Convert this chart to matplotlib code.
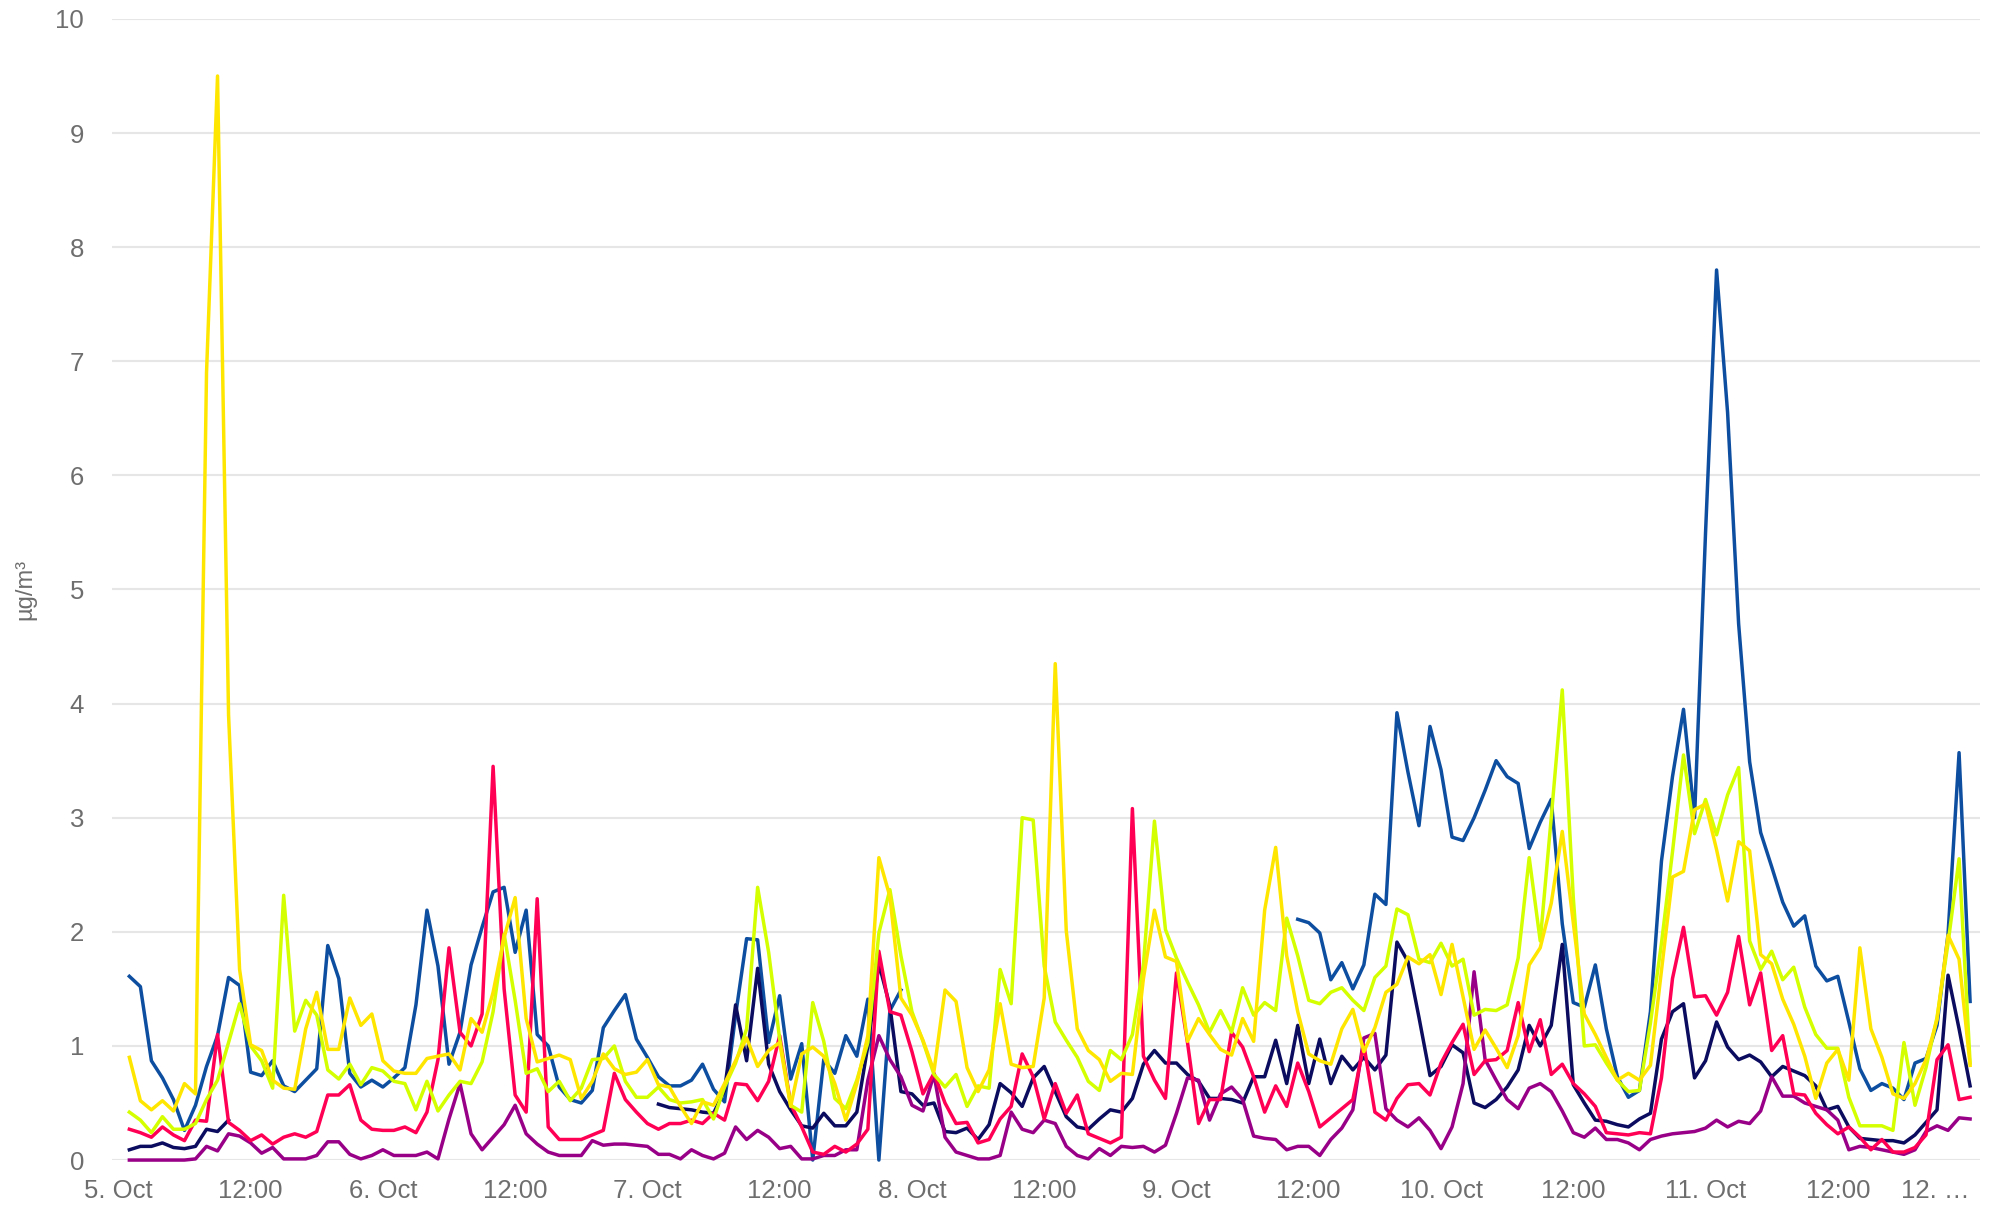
import numpy as np
import matplotlib
matplotlib.use("Agg")
import matplotlib.pyplot as plt

# hourly values, 5 Oct 01:00 .. 12 Oct 00:00, one row per day (None = no data)
blue = ([1.61, 1.52, 0.87, 0.72, 0.53, 0.26, 0.48, 0.82, 1.09, 1.60, 1.53, 0.77, 0.74, 0.87, 0.65, 0.60, 0.70, 0.80, 1.88, 1.59, 0.76, 0.64, 0.70, 0.64]
        + [0.72, 0.81, 1.36, 2.19, 1.70, 0.84, 1.12, 1.71, 2.04, 2.35, 2.39, 1.82, 2.19, 1.10, 1.00, 0.64, 0.53, 0.50, 0.61, 1.16, 1.31, 1.45, 1.06, 0.90]
        + [0.73, 0.65, 0.65, 0.70, 0.84, 0.62, 0.51, 1.27, 1.94, 1.93, 1.03, 1.44, 0.71, 1.02, 0.00, 0.88, 0.76, 1.09, 0.91, 1.41, 0.00, 1.31, 1.49, None]
        + [None] * 24
        + [None] * 10 + [2.11, 2.08, 1.99, 1.58, 1.73, 1.50, 1.71, 2.33, 2.24, 3.92, 3.40, 2.93, 3.80, 3.42]
        + [2.83, 2.80, 3.00, 3.24, 3.50, 3.36, 3.30, 2.73, 2.96, 3.16, 2.07, 1.38, 1.34, 1.71, 1.15, 0.73, 0.55, 0.61, 1.30, 2.62, 3.36, 3.95, 3.00, 5.50]
        + [7.80, 6.55, 4.70, 3.49, 2.87, 2.57, 2.26, 2.05, 2.14, 1.70, 1.57, 1.61, 1.21, 0.80, 0.61, 0.67, 0.63, 0.53, 0.85, 0.89, 1.18, 1.98, 3.57, 1.39])

navy = ([0.09, 0.12, 0.12, 0.15, 0.11, 0.10, 0.12, 0.27, 0.25, 0.35] + [None] * 14
        + [None] * 24
        + [0.49, 0.46, 0.45, 0.44, 0.42, 0.41, 0.61, 1.36, 0.87, 1.68, 0.84, 0.60, 0.44, 0.30, 0.28, 0.41, 0.30, 0.30, 0.42, 1.00, 1.72, 1.35, 0.60, 0.58]
        + [0.48, 0.50, 0.25, 0.24, 0.28, 0.18, 0.31, 0.67, 0.59, 0.47, 0.72, 0.82, 0.60, 0.38, 0.29, 0.27, 0.36, 0.44, 0.42, 0.54, 0.84, 0.96, 0.85, 0.85]
        + [0.75, 0.69, 0.54, 0.54, 0.53, 0.50, 0.73, 0.73, 1.05, 0.67, 1.18, 0.67, 1.06, 0.67, 0.91, 0.79, 0.90, 0.79, 0.92, 1.91, 1.74, 1.25, 0.74, 0.82]
        + [1.01, 0.94, 0.50, 0.46, 0.53, 0.64, 0.79, 1.18, 1.00, 1.18, 1.89, 0.66, 0.50, 0.35, 0.34, 0.31, 0.29, 0.36, 0.41, 1.06, 1.30, 1.37, 0.72, 0.87]
        + [1.21, 0.99, 0.88, 0.92, 0.86, 0.73, 0.82, 0.78, 0.74, 0.65, 0.44, 0.47, 0.29, 0.19, 0.18, 0.17, 0.17, 0.15, 0.22, 0.33, 0.44, 1.62, 1.15, 0.65])

purple = ([0.00, 0.00, 0.00, 0.00, 0.00, 0.00, 0.01, 0.12, 0.08, 0.23, 0.21, 0.15, 0.06, 0.11, 0.01, 0.01, 0.01, 0.04, 0.16, 0.16, 0.05, 0.01, 0.04, 0.09]
          + [0.04, 0.04, 0.04, 0.07, 0.01, 0.36, 0.67, 0.23, 0.09, 0.20, 0.31, 0.48, 0.23, 0.14, 0.07, 0.04, 0.04, 0.04, 0.17, 0.13, 0.14, 0.14, 0.13, 0.12]
          + [0.05, 0.05, 0.01, 0.09, 0.04, 0.01, 0.06, 0.29, 0.18, 0.26, 0.20, 0.10, 0.12, 0.01, 0.01, 0.04, 0.04, 0.09, 0.09, 0.70, 1.09, 0.88, 0.73, 0.48]
          + [0.43, 0.75, 0.20, 0.07, 0.04, 0.01, 0.01, 0.04, 0.42, 0.27, 0.24, 0.35, 0.32, 0.12, 0.04, 0.01, 0.10, 0.04, 0.12, 0.11, 0.12, 0.07, 0.13, 0.41]
          + [0.72, 0.70, 0.35, 0.58, 0.64, 0.53, 0.21, 0.19, 0.18, 0.09, 0.12, 0.12, 0.04, 0.18, 0.28, 0.44, 1.07, 1.11, 0.45, 0.35, 0.29, 0.37, 0.26, 0.10]
          + [0.29, 0.67, 1.65, 0.88, 0.70, 0.53, 0.45, 0.63, 0.67, 0.60, 0.43, 0.24, 0.20, 0.28, 0.18, 0.18, 0.15, 0.09, 0.18, 0.21, 0.23, 0.24, 0.25, 0.28]
          + [0.35, 0.29, 0.34, 0.32, 0.43, 0.73, 0.56, 0.56, 0.50, 0.47, 0.44, 0.35, 0.09, 0.12, 0.11, 0.09, 0.07, 0.05, 0.09, 0.25, 0.30, 0.26, 0.37, 0.36])

red = ([0.27, 0.24, 0.20, 0.29, 0.22, 0.17, 0.35, 0.34, 1.10, 0.33, 0.26, 0.17, 0.22, 0.14, 0.20, 0.23, 0.20, 0.25, 0.57, 0.57, 0.66, 0.35, 0.27, 0.26]
       + [0.26, 0.29, 0.24, 0.42, 0.88, 1.86, 1.12, 1.00, 1.28, 3.45, 1.50, 0.57, 0.42, 2.29, 0.29, 0.18, 0.18, 0.18, 0.22, 0.26, 0.76, 0.53, 0.42, 0.32]
       + [0.27, 0.32, 0.32, 0.35, 0.32, 0.41, 0.35, 0.67, 0.66, 0.52, 0.69, 1.09, 0.49, 0.29, 0.07, 0.05, 0.12, 0.07, 0.14, 0.27, 1.83, 1.30, 1.27, 0.95]
       + [0.58, 0.76, 0.50, 0.32, 0.33, 0.15, 0.18, 0.36, 0.47, 0.93, 0.73, 0.36, 0.67, 0.41, 0.57, 0.23, 0.19, 0.15, 0.20, 3.08, 0.91, 0.70, 0.54, 1.64]
       + [1.03, 0.32, 0.53, 0.53, 1.12, 0.99, 0.73, 0.42, 0.65, 0.47, 0.85, 0.60, 0.29, 0.37, 0.45, 0.53, 1.01, 0.42, 0.35, 0.54, 0.66, 0.67, 0.57, 0.85]
       + [1.03, 1.19, 0.75, 0.87, 0.88, 0.96, 1.38, 0.95, 1.23, 0.75, 0.84, 0.67, 0.58, 0.47, 0.24, 0.23, 0.22, 0.24, 0.23, 0.72, 1.59, 2.04, 1.43, 1.44]
       + [1.27, 1.47, 1.96, 1.36, 1.64, 0.96, 1.09, 0.58, 0.57, 0.41, 0.31, 0.23, 0.29, 0.20, 0.09, 0.18, 0.07, 0.07, 0.11, 0.22, 0.88, 1.01, 0.53, 0.55])

lime = ([0.42, 0.35, 0.24, 0.38, 0.27, 0.27, 0.32, 0.53, 0.70, 1.03, 1.37, 1.00, 0.87, 0.63, 2.32, 1.13, 1.40, 1.27, 0.79, 0.71, 0.84, 0.66, 0.81, 0.78]
        + [0.69, 0.67, 0.44, 0.69, 0.43, 0.57, 0.69, 0.67, 0.86, 1.30, 1.98, 1.40, 0.76, 0.80, 0.60, 0.69, 0.52, 0.63, 0.88, 0.89, 1.00, 0.69, 0.55, 0.55]
        + [0.64, 0.53, 0.50, 0.51, 0.53, 0.36, 0.64, 0.85, 1.15, 2.39, 1.82, 1.06, 0.48, 0.42, 1.38, 1.04, 0.54, 0.45, 0.70, 1.03, 1.99, 2.37, 1.79, 1.30]
        + [1.04, 0.75, 0.64, 0.75, 0.47, 0.65, 0.63, 1.67, 1.37, 3.00, 2.98, 1.70, 1.21, 1.05, 0.90, 0.69, 0.61, 0.96, 0.88, 1.10, 1.71, 2.97, 2.02, 1.77]
        + [1.56, 1.36, 1.12, 1.31, 1.12, 1.51, 1.27, 1.38, 1.31, 2.12, 1.79, 1.40, 1.37, 1.47, 1.51, 1.40, 1.31, 1.60, 1.70, 2.20, 2.15, 1.76, 1.73, 1.90]
        + [1.70, 1.76, 1.27, 1.32, 1.31, 1.36, 1.77, 2.65, 1.92, 3.00, 4.12, 2.30, 1.00, 1.01, 0.85, 0.70, 0.60, 0.61, 1.20, 1.90, 2.70, 3.55, 2.86, 3.16]
        + [2.85, 3.20, 3.44, 1.92, 1.67, 1.83, 1.58, 1.69, 1.34, 1.10, 0.98, 0.98, 0.55, 0.30, 0.30, 0.30, 0.26, 1.03, 0.48, 0.81, 1.25, 1.90, 2.64, 0.85])

yellow = ([0.90, 0.52, 0.44, 0.52, 0.43, 0.67, 0.58, 6.90, 9.50, 3.90, 1.67, 1.01, 0.96, 0.70, 0.63, 0.62, 1.15, 1.47, 0.97, 0.97, 1.42, 1.18, 1.28, 0.87]
          + [0.78, 0.76, 0.76, 0.89, 0.91, 0.93, 0.79, 1.24, 1.12, 1.47, 1.95, 2.30, 1.24, 0.86, 0.89, 0.92, 0.88, 0.54, 0.69, 0.93, 0.80, 0.75, 0.77, 0.88]
          + [0.66, 0.64, 0.47, 0.32, 0.51, 0.48, 0.67, 0.87, 1.07, 0.82, 0.96, 1.03, 0.47, 0.93, 0.99, 0.91, 0.67, 0.35, 0.67, 1.09, 2.65, 2.31, 1.42, 1.27]
          + [1.05, 0.78, 1.49, 1.39, 0.81, 0.60, 0.79, 1.37, 0.84, 0.81, 0.82, 1.42, 4.35, 2.01, 1.15, 0.96, 0.88, 0.69, 0.76, 0.75, 1.59, 2.19, 1.78, 1.74]
          + [1.04, 1.24, 1.10, 0.97, 0.92, 1.24, 1.04, 2.19, 2.74, 1.79, 1.30, 0.93, 0.87, 0.84, 1.15, 1.32, 0.95, 1.16, 1.47, 1.54, 1.78, 1.72, 1.80, 1.45]
          + [1.89, 1.43, 0.97, 1.14, 0.98, 0.81, 1.09, 1.71, 1.86, 2.25, 2.88, 2.08, 1.28, 1.10, 0.90, 0.70, 0.76, 0.70, 0.83, 1.66, 2.48, 2.53, 3.07, 3.12]
          + [2.72, 2.27, 2.79, 2.71, 1.80, 1.72, 1.41, 1.19, 0.91, 0.54, 0.85, 0.97, 0.70, 1.86, 1.15, 0.90, 0.58, 0.54, 0.67, 0.88, 1.23, 1.97, 1.76, 0.83])

series_values = [blue, navy, purple, red, lime, yellow]
series_colors = ["#0d4ea0", "#0b0b60", "#990088", "#ff0055", "#d4ff00", "#ffe600"]

tick_hours = list(range(0, 169, 12))
tick_labels = ["5. Oct", "12:00", "6. Oct", "12:00", "7. Oct", "12:00", "8. Oct", "12:00",
               "9. Oct", "12:00", "10. Oct", "12:00", "11. Oct", "12:00", "12. \u2026"]
y_ticks = list(range(0, 11))

plt.rcParams['font.family'] = ['Liberation Sans', 'DejaVu Sans']

fig = plt.figure(figsize=(19.99, 12.07), dpi=100)
ax = fig.add_axes([0.056, 0.0389, 0.9345, 0.9454])

for vals, col in zip(series_values, series_colors):
    y = np.array(vals, dtype=float)
    x = np.arange(1, len(y) + 1)
    ax.plot(x, y, color=col, lw=2.5, solid_joinstyle='round', clip_on=False, zorder=3)

ax.set_xlim(-0.58, 168.9)
ax.set_ylim(0, 10)
ax.set_yticks(y_ticks)
ax.set_xticks(tick_hours)
ax.set_xticklabels(tick_labels)
ax.grid(axis='y', color='#e6e6e6', lw=1.5, zorder=0)
ax.tick_params(axis='both', length=0, labelsize=18.5, labelcolor='#6e6e6e')
ax.tick_params(axis='y', pad=20)
ax.tick_params(axis='x', pad=14)
for s in ax.spines.values():
    s.set_visible(False)
# last label is cut short in the original, keep it inside the plot area
ax.get_xticklabels()[-1].set_horizontalalignment('right')
ax.get_xticklabels()[-1].set_x(168.9)

fig.text(25 / 1999, 1 - 589 / 1207, "µg/m³", rotation=90, ha='center', va='center',
         fontsize=17, color='#6e6e6e')

fig.savefig("out.png", dpi=100)
